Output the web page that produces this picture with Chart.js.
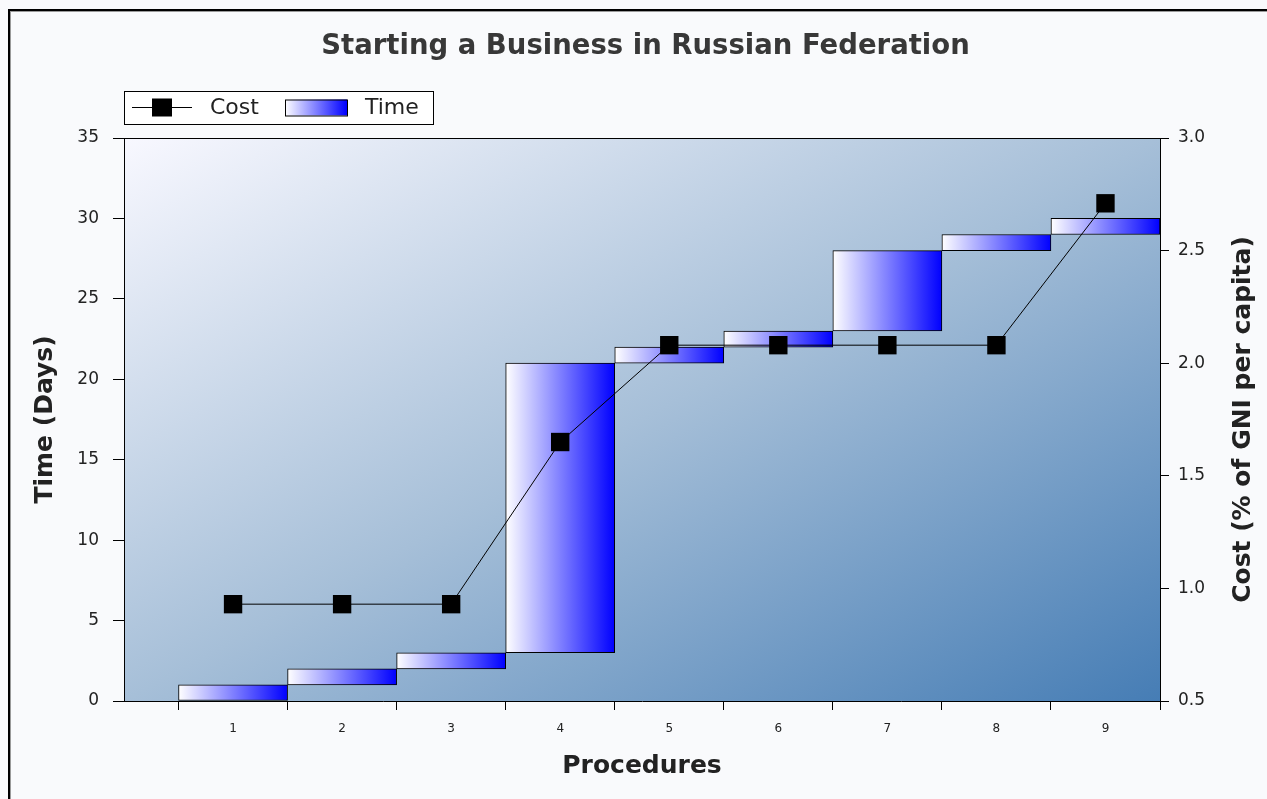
<!DOCTYPE html>
<html>
<head>
<meta charset="utf-8">
<title>Starting a Business in Russian Federation</title>
<script src="https://cdn.jsdelivr.net/npm/chart.js@4/dist/chart.umd.min.js"></script>
<style>
  html, body { margin: 0; padding: 0; background: #f9fafc; }
  #wrap { position: absolute; left: 0; top: 0; width: 1267px; height: 799px; }
  /* bevel lines along the top and left edge of the picture */
  .edge { position: absolute; pointer-events: none; }
  #edgeDark { left: 8px; top: 9px; right: 0; bottom: 0; border-top: 2px solid #000; border-left: 2px solid #000; }
  #edgeLight { left: 10px; top: 11px; right: 0; bottom: 0; border-top: 1px solid #9a9a9a; border-left: 1px solid #9a9a9a; }
</style>
</head>
<body>
<div id="wrap"><canvas id="chart" width="1267" height="799"></canvas></div>
<div id="edgeDark" class="edge"></div>
<div id="edgeLight" class="edge"></div>
<script>
// procedure numbers along the x axis
const procedures = [1, 2, 3, 4, 5, 6, 7, 8, 9];
// cumulative days: each procedure runs from start to end
const timeStart = [0, 1, 2, 3, 21, 22, 23, 28, 29];
const timeEnd   = [1, 2, 3, 21, 22, 23, 28, 29, 30];
// cumulative cost, % of GNI per capita
const cost = [0.93, 0.93, 0.93, 1.65, 2.08, 2.08, 2.08, 2.08, 2.71];

const FONT = '"DejaVu Sans", Verdana, sans-serif';
const INK = '#222';

// white -> blue fill across one bar
function barFill(ctx) {
    const chart = ctx.chart;
    const x = chart.scales.x;
    if (!chart.chartArea || !x || ctx.dataIndex === undefined) return '#0000ff';
    const v = procedures[ctx.dataIndex];
    const x0 = x.getPixelForValue(v - 0.5);
    const x1 = x.getPixelForValue(v + 0.5);
    const g = chart.ctx.createLinearGradient(x0, 0, x1, 0);
    g.addColorStop(0, '#ffffff');
    g.addColorStop(1, '#0000ff');
    return g;
}

// plot background, light at top-left, steel blue at bottom-right
const plotBackground = {
    id: 'plotBackground',
    beforeDraw(chart) {
        const { ctx, chartArea: a } = chart;
        const w = a.right - a.left, h = a.bottom - a.top;
        const cx = (a.left + a.right) / 2, cy = (a.top + a.bottom) / 2;
        const k = w * h / (w * w + h * h);
        const g = ctx.createLinearGradient(cx - h * k, cy - w * k, cx + h * k, cy + w * k);
        g.addColorStop(0, '#f8f8ff');
        g.addColorStop(0.5, '#a6bfd8');
        g.addColorStop(1, '#467db5');
        ctx.save();
        ctx.fillStyle = g;
        ctx.fillRect(a.left, a.top, w, h);
        ctx.strokeStyle = '#000';
        ctx.lineWidth = 1;
        ctx.beginPath();
        ctx.moveTo(a.left, a.top + 0.5);
        ctx.lineTo(a.right, a.top + 0.5);
        ctx.stroke();
        ctx.restore();
    }
};

// boxed legend above the plot plus the right-hand axis title
const boxLegend = {
    id: 'boxLegend',
    afterDraw(chart) {
        const { ctx, chartArea: a } = chart;
        const ds = chart.data.datasets;
        const left = a.left, top = 91;
        ctx.save();
        ctx.fillStyle = '#fff';
        ctx.fillRect(left, top, 309, 33);
        ctx.strokeStyle = '#000';
        ctx.lineWidth = 1;
        ctx.strokeRect(left + 0.5, top + 0.5, 309, 33);

        const my = top + 16.5;
        // line + square marker
        ctx.beginPath();
        ctx.moveTo(left + 8, my);
        ctx.lineTo(left + 68, my);
        ctx.stroke();
        ctx.fillStyle = '#000';
        ctx.fillRect(left + 28, my - 9, 20, 18);

        ctx.font = '22px ' + FONT;
        ctx.textBaseline = 'middle';
        ctx.fillStyle = INK;
        ctx.fillText(ds[0].label, left + 86, my + 1);

        // gradient swatch
        const sx = left + 161, sw = 62;
        const g = ctx.createLinearGradient(sx, 0, sx + sw, 0);
        g.addColorStop(0, '#ffffff');
        g.addColorStop(1, '#0000ff');
        ctx.fillStyle = g;
        ctx.fillRect(sx, my - 8, sw, 16);
        ctx.strokeRect(sx + 0.5, my - 8 + 0.5, sw, 16);
        ctx.fillStyle = INK;
        ctx.fillText(ds[1].label, left + 241, my + 1);

        // right axis title reads bottom-to-top
        const t = chart.options.scales.y1.title;
        ctx.translate(1243, (a.top + a.bottom) / 2);
        ctx.rotate(-Math.PI / 2);
        ctx.font = 'bold 25px ' + FONT;
        ctx.textAlign = 'center';
        ctx.fillStyle = INK;
        ctx.fillText(t.text, 0, 0);
        ctx.restore();
    }
};

new Chart(document.getElementById('chart'), {
    data: {
        datasets: [
            {
                type: 'line',
                label: 'Cost',
                yAxisID: 'y1',
                data: procedures.map((p, i) => ({ x: p, y: cost[i] })),
                borderColor: '#000',
                borderWidth: 1,
                pointStyle: 'rect',
                pointRadius: 13,
                pointBackgroundColor: '#000',
                pointBorderWidth: 0,
                order: 0
            },
            {
                type: 'bar',
                label: 'Time',
                yAxisID: 'y',
                data: procedures.map((p, i) => ({ x: p, y: [timeStart[i], timeEnd[i]] })),
                backgroundColor: barFill,
                borderColor: '#000',
                borderWidth: 1,
                borderSkipped: false,
                barPercentage: 1,
                categoryPercentage: 1,
                order: 1
            }
        ]
    },
    options: {
        responsive: false,
        animation: false,
        layout: { padding: { left: 24, right: 0, top: 0, bottom: 0 } },
        plugins: {
            legend: { display: false },
            tooltip: { enabled: false },
            title: {
                display: true,
                text: 'Starting a Business in Russian Federation',
                color: '#383838',
                font: { family: FONT, size: 27.5, weight: 'bold' },
                padding: { top: 30, bottom: 75 }
            }
        },
        scales: {
            x: {
                type: 'linear',
                min: 0,
                max: 9.5,
                offset: false,
                afterBuildTicks: s => { s.ticks = procedures.map(v => ({ value: v })); },
                afterFit: s => { s.height = 98; },
                ticks: {
                    color: INK,
                    font: { family: FONT, size: 12 },
                    padding: 12,
                    maxRotation: 0,
                    autoSkip: false,
                    callback: v => String(v)
                },
                grid: { offset: true, drawOnChartArea: false, tickLength: 9, color: '#000' },
                border: { color: '#000' },
                title: {
                    display: true,
                    text: 'Procedures',
                    color: INK,
                    font: { family: FONT, size: 25, weight: 'bold' },
                    padding: { top: 0, bottom: 18 }
                }
            },
            y: {
                position: 'left',
                min: 0,
                max: 35,
                afterFit: s => { s.width = 100; },
                ticks: { stepSize: 5, color: INK, font: { family: FONT, size: 17 }, padding: 14 },
                grid: { drawOnChartArea: false, tickLength: 11, color: '#000' },
                border: { color: '#000' },
                title: {
                    display: true,
                    text: 'Time (Days)',
                    color: INK,
                    font: { family: FONT, size: 25, weight: 'bold' },
                    padding: { top: 6, bottom: 0 }
                }
            },
            y1: {
                position: 'right',
                min: 0.5,
                max: 3,
                afterFit: s => { s.width = 107; },
                ticks: {
                    stepSize: 0.5,
                    color: INK,
                    font: { family: FONT, size: 17 },
                    padding: 9,
                    callback: v => v.toFixed(1)
                },
                grid: { drawOnChartArea: false, tickLength: 9, color: '#000' },
                border: { color: '#000' },
                title: { display: false, text: 'Cost (% of GNI per capita)' }
            }
        }
    },
    plugins: [plotBackground, boxLegend]
});
</script>
</body>
</html>
